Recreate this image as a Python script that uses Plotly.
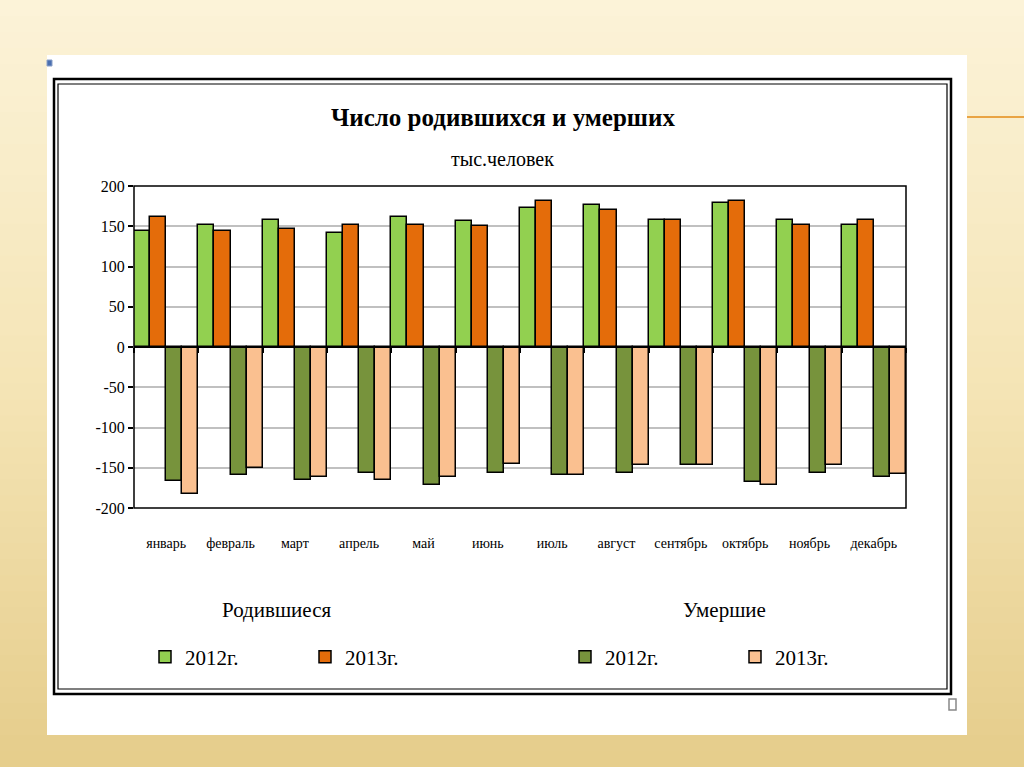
import plotly.graph_objects as go

months = ["январь", "февраль", "март", "апрель", "май", "июнь", "июль",
          "август", "сентябрь", "октябрь", "ноябрь", "декабрь"]
births_2012 = [144, 152, 158, 141, 161, 156, 173, 176, 158, 179, 158, 152]
births_2013 = [161, 144, 147, 152, 152, 150, 181, 170, 158, 181, 152, 158]
deaths_2012 = [-167, -159, -165, -156, -171, -157, -159, -157, -146, -168, -157, -162]
deaths_2013 = [-182, -150, -162, -165, -162, -145, -159, -146, -146, -171, -146, -158]
y_ticks = [-200, -150, -100, -50, 0, 50, 100, 150, 200]
y_ticktext = [str(v) for v in y_ticks]

W, H = 1024, 767
L, R, T, B = 134, 906, 186, 508
PW, PH = R - L, B - T


def px(x):
    return (x - L) / PW


def py(y):
    return (B - y) / PH


FONT = "Liberation Serif"
edge = dict(color="black", width=1.5)

fig = go.Figure()
fig.add_trace(go.Bar(x=months, y=births_2012, name="2012г.", legend="legend",
                     marker=dict(color="#92d050", line=edge)))
fig.add_trace(go.Bar(x=months, y=births_2013, name="2013г.", legend="legend",
                     marker=dict(color="#e46c0a", line=edge)))
fig.add_trace(go.Bar(x=months, y=deaths_2012, name="2012г.", legend="legend2",
                     marker=dict(color="#77933c", line=edge)))
fig.add_trace(go.Bar(x=months, y=deaths_2013, name="2013г.", legend="legend2",
                     marker=dict(color="#fac090", line=edge)))

shapes = []
# background gradient bands
top_c = (252, 243, 216)
mid_c = (245, 229, 182)
bot_c = (230, 206, 140)
n = 48
for i in range(n):
    t = i / (n - 1)
    if t < 0.5:
        a, b_, tt = top_c, mid_c, t / 0.5
    else:
        a, b_, tt = mid_c, bot_c, (t - 0.5) / 0.5
    c = tuple(int(a[k] + (b_[k] - a[k]) * tt) for k in range(3))
    y0 = H * i / n
    y1 = H * (i + 1) / n + 1
    shapes.append(dict(type="rect", xref="paper", yref="paper", layer="below",
                       x0=px(0), x1=px(W), y0=py(y0), y1=py(y1),
                       line=dict(width=0), fillcolor="rgb(%d,%d,%d)" % c))
# white slide
shapes.append(dict(type="rect", xref="paper", yref="paper", layer="below",
                   x0=px(47), x1=px(967), y0=py(55), y1=py(735),
                   line=dict(width=0), fillcolor="white"))
# chart double frame
shapes.append(dict(type="rect", xref="paper", yref="paper", layer="below",
                   x0=px(54), x1=px(951), y0=py(79), y1=py(694),
                   line=dict(color="black", width=2.5), fillcolor="white"))
shapes.append(dict(type="rect", xref="paper", yref="paper", layer="below",
                   x0=px(58), x1=px(947), y0=py(84), y1=py(689),
                   line=dict(color="black", width=1.2), fillcolor="white"))
# decorative orange line on right
shapes.append(dict(type="line", xref="paper", yref="paper", layer="below",
                   x0=px(967), x1=px(1024), y0=py(117), y1=py(117),
                   line=dict(color="#e9a444", width=2)))
# small handle square bottom right
shapes.append(dict(type="rect", xref="paper", yref="paper", layer="below",
                   x0=px(949), x1=px(956), y0=py(699), y1=py(710),
                   line=dict(color="#888888", width=1.5), fillcolor="white"))
# small marker top left
shapes.append(dict(type="rect", xref="paper", yref="paper", layer="below",
                   x0=px(47), x1=px(52), y0=py(60), y1=py(66),
                   line=dict(color="#8aa0c8", width=1), fillcolor="#4a6fb0"))
# plot area border
shapes.append(dict(type="rect", xref="paper", yref="paper", layer="above",
                   x0=0, x1=1, y0=0, y1=1,
                   line=dict(color="black", width=1.5)))

annotations = [
    dict(text="<b>Число родившихся и умерших</b>", x=px(503), y=py(117),
         xref="paper", yref="paper", showarrow=False, xanchor="center", yanchor="middle",
         font=dict(family=FONT, size=25, color="black")),
    dict(text="тыс.человек", x=px(502), y=py(159),
         xref="paper", yref="paper", showarrow=False, xanchor="center", yanchor="middle",
         font=dict(family=FONT, size=20, color="black")),
    dict(text="Родившиеся", x=px(276), y=py(610),
         xref="paper", yref="paper", showarrow=False, xanchor="center", yanchor="middle",
         font=dict(family=FONT, size=21, color="black")),
    dict(text="Умершие", x=px(724), y=py(610),
         xref="paper", yref="paper", showarrow=False, xanchor="center", yanchor="middle",
         font=dict(family=FONT, size=21, color="black")),
]

legend_common = dict(orientation="h", xanchor="left", yanchor="middle",
                     bgcolor="rgba(0,0,0,0)", borderwidth=0,
                     font=dict(family=FONT, size=21, color="black"),
                     entrywidthmode="pixels", itemwidth=30,
                     traceorder="normal")

fig.update_layout(
    width=W, height=H,
    margin=dict(l=L, r=W - R, t=T, b=H - B, pad=0),
    paper_bgcolor="rgb(244,227,178)",
    plot_bgcolor="white",
    barmode="group", bargap=0, bargroupgap=0,
    showlegend=True,
    legend=dict(x=px(145), y=py(657), entrywidth=115, **legend_common),
    legend2=dict(x=px(565), y=py(657), entrywidth=125, **legend_common),
    shapes=shapes,
    annotations=annotations,
    xaxis=dict(type="category", anchor="free", position=0.5,
               tickson="boundaries", ticks="outside", ticklen=5, tickwidth=1.5,
               tickcolor="black", showline=True, linecolor="black", linewidth=1.5,
               showgrid=False, zeroline=False, automargin=False,
               tickangle=0, ticklabelstandoff=183,
               tickfont=dict(family=FONT, size=14, color="black")),
    yaxis=dict(range=[-200, 200], tickvals=y_ticks, ticktext=y_ticktext,
               ticks="outside", ticklen=5, tickwidth=1.5, tickcolor="black",
               showgrid=True, gridcolor="#c0c0c0", gridwidth=2,
               zeroline=False, showline=False, automargin=False,
               tickfont=dict(family=FONT, size=16, color="black")),
)

fig.write_html("out.html", config={"displayModeBar": False},
               post_script="document.body.style.margin='0';document.body.style.padding='0';")
